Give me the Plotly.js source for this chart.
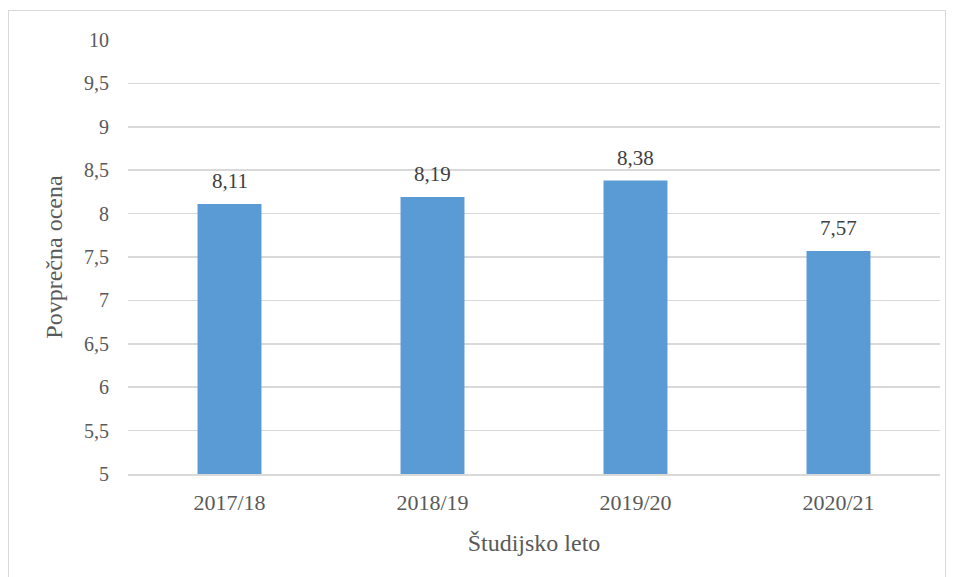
<!DOCTYPE html>
<html><head><meta charset="utf-8">
<script src="https://cdn.plot.ly/plotly-3.0.1.min.js"></script>
<style>
body{margin:0;background:#fff;}
#frame{position:absolute;left:8px;top:10px;width:938px;height:580px;border:1.5px solid #d9d9d9;box-sizing:border-box;}
#chart{position:absolute;left:0;top:0;width:955px;height:577px;}
</style></head>
<body>
<div id="chart"></div>
<div id="frame"></div>
<script>
const years = ["2017/18","2018/19","2019/20","2020/21"];
const grades = [8.11, 8.19, 8.38, 7.57];
const labels = ["8,11","8,19","8,38","7,57"];
const tickVals = [5,5.5,6,6.5,7,7.5,8,8.5,9,9.5,10];
const tickText = ["5","5,5","6","6,5","7","7,5","8","8,5","9","9,5","10"];
const fontFam = "'Liberation Serif', 'DejaVu Serif', serif";
const annotations = years.map((y,i)=>({x:y, y:grades[i], text:labels[i], showarrow:false,
  yanchor:'bottom', yshift:9, font:{family:fontFam,size:21,color:'#404040'}}));
Plotly.newPlot('chart', [{
  type:'bar', x:years, y:grades,
  marker:{color:'#5b9bd5'}, hoverinfo:'none'
}], {
  width:955, height:577, margin:{l:128,r:15,t:40,b:103},
  paper_bgcolor:'rgba(0,0,0,0)', plot_bgcolor:'#fff',
  bargap:0.685, showlegend:false, annotations:annotations,
  font:{family:fontFam,color:'#595959',size:20},
  xaxis:{showgrid:false, showline:true, linecolor:'#d9d9d9', linewidth:1.5, ticks:'', ticklabelstandoff:8,
    tickfont:{family:fontFam,size:22,color:'#595959'},
    title:{text:'Študijsko leto', font:{family:fontFam,size:24,color:'#595959'}, standoff:20}},
  yaxis:{range:[5,10], tickvals:tickVals, ticktext:tickText, showgrid:true, gridcolor:'#d9d9d9', gridwidth:1.5,
    zeroline:false, showline:false, ticks:'', ticklabelstandoff:18,
    tickfont:{family:fontFam,size:20,color:'#595959'},
    title:{text:'Povprečna ocena', font:{family:fontFam,size:24,color:'#595959'}, standoff:14}}
}, {staticPlot:true});
</script>
</body></html>
